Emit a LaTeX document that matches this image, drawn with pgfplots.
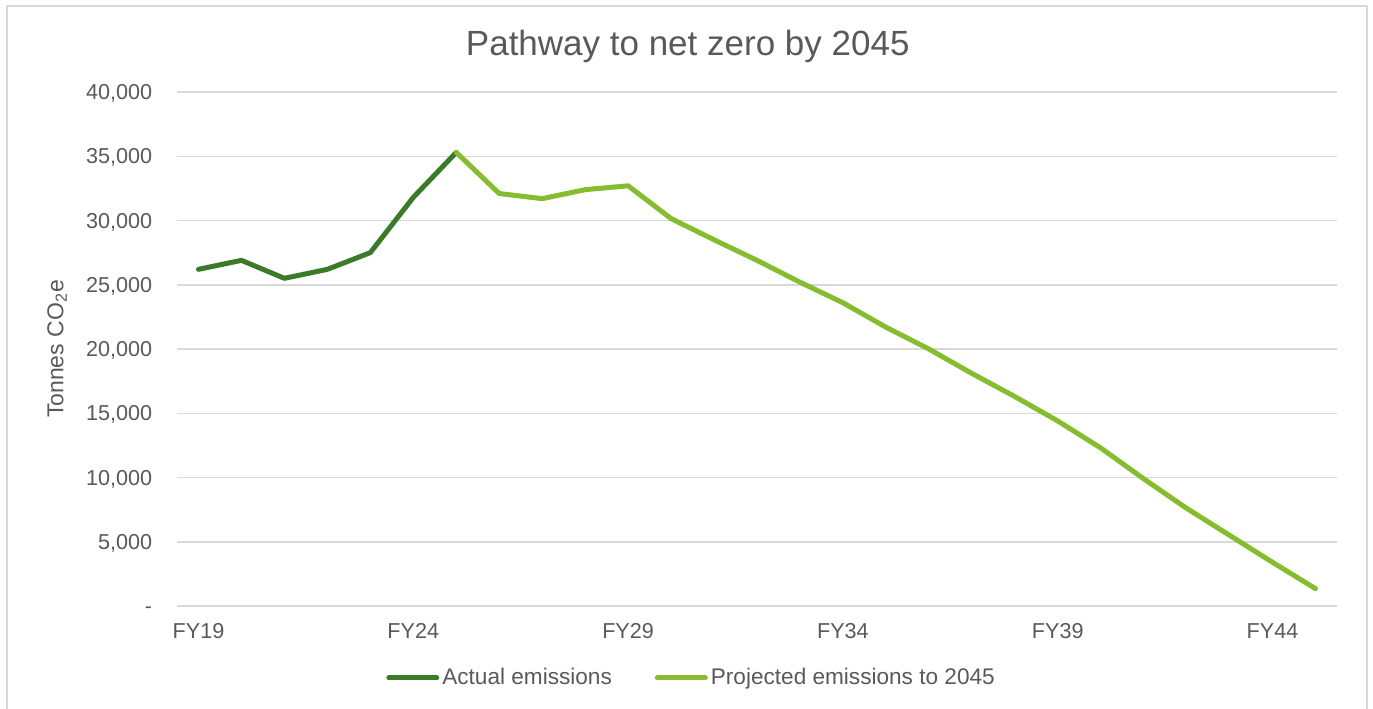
\documentclass[border=0pt]{standalone}
\usepackage{pgfplots}
\pgfplotsset{compat=1.18}
\usepackage{fontspec}
\setmainfont{Liberation Sans}
\definecolor{darkg}{RGB}{59,122,40}
\definecolor{lightg}{RGB}{134,188,48}
\definecolor{txt}{RGB}{89,89,89}
\definecolor{gridc}{RGB}{217,217,217}
\begin{document}
\begin{tikzpicture}
\path[use as bounding box] (0,0) rectangle (686.5pt,354pt);
\draw[gridc, line width=1pt] (3.5pt,-5pt) -- (3.5pt,351pt) -- (683.5pt,351pt) -- (683.5pt,-5pt);
\begin{axis}[
  at={(88.5pt,51pt)}, anchor=south west,
  scale only axis, width=580pt, height=257pt,
  xmin=-0.5, xmax=26.5, ymin=0, ymax=40000,
  scaled y ticks=false,
  xtick={0,5,10,15,20,25},
  xticklabels={FY19,FY24,FY29,FY34,FY39,FY44},
  ytick={0,5000,10000,15000,20000,25000,30000,35000,40000},
  yticklabels={-,{5,000},{10,000},{15,000},{20,000},{25,000},{30,000},{35,000},{40,000}},
  major tick length=0pt,
  axis line style={draw=none},
  ymajorgrids, grid style={gridc, line width=0.75pt},
  tick label style={font=\fontsize{10.8}{12}\selectfont, text=txt},
  xticklabel style={inner sep=0pt, anchor=north, yshift=-8.5pt},
  yticklabel style={inner sep=0pt, anchor=east, xshift=-12.25pt, text height=7.7pt, text depth=0pt},
  ylabel={Tonnes CO\textsubscript{2}e},
  ylabel style={at={(axis description cs:-0.1034,0.5)}, anchor=center, font=\fontsize{11.5}{13}\selectfont, text=txt},
  title={Pathway to net zero by 2045},
  title style={at={(axis description cs:0.4403,1.0)}, anchor=base, yshift=12.5pt, font=\fontsize{17.5}{20}\selectfont, text=txt},
  legend columns=2,
  legend style={at={(axis description cs:0.444,-0.140)}, anchor=center, draw=none, fill=none,
    font=\fontsize{11.3}{13}\selectfont, text=txt,
    /tikz/every even column/.append style={column sep=20pt},
    nodes={inner sep=1.5pt}},
  legend image code/.code={\draw[#1] (0pt,0pt) -- (24pt,0pt);},
]
\addplot[darkg, line width=2.5pt, line cap=round, line join=round] coordinates {
(0,26200) (1,26900) (2,25500) (3,26200) (4,27500) (5,31800) (6,35300)
};
\addlegendentry{Actual emissions}
\addplot[lightg, line width=2.5pt, line cap=round, line join=round] coordinates {
(6,35300) (7,32100) (8,31700) (9,32400) (10,32700) (11,30150) (12,28500)
(13,26900) (14,25200) (15,23600) (16,21700) (17,20000) (18,18100) (19,16300)
(20,14400) (21,12300) (22,9900) (23,7600) (24,5500) (25,3400) (26,1350)
};
\addlegendentry{Projected emissions to 2045}
\end{axis}
\end{tikzpicture}
\end{document}
